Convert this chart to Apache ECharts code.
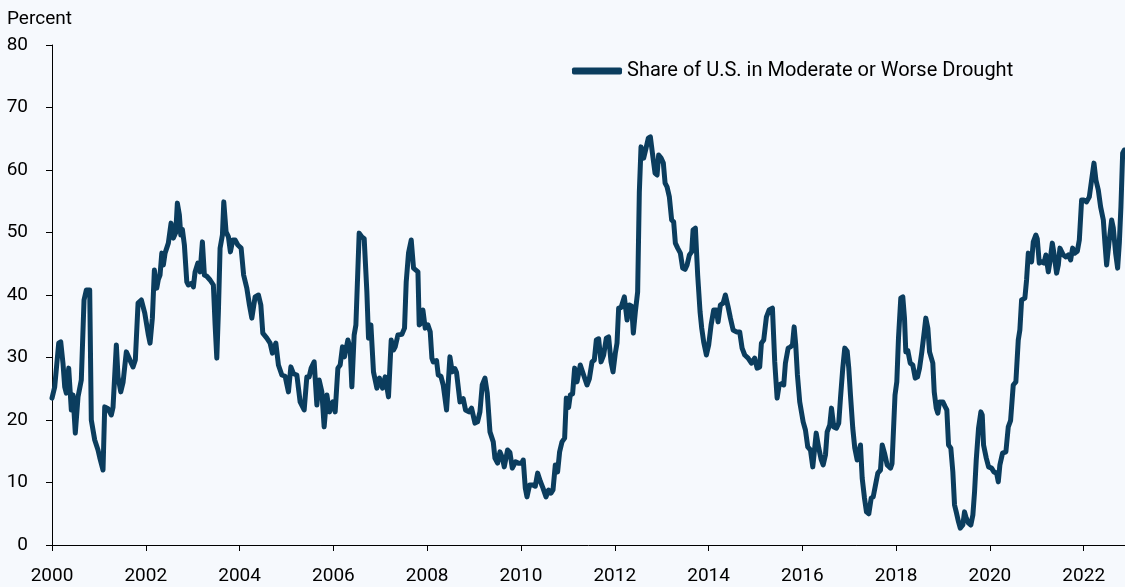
<!DOCTYPE html>
<html>
<head>
<meta charset="utf-8">
<script src="https://cdn.jsdelivr.net/npm/echarts@6/dist/echarts.min.js"></script>
<style>
  html, body { margin: 0; padding: 0; background: #f6f9fd; }
  #main { width: 1125px; height: 587px; }
</style>
</head>
<body>
<div id="main"></div>
<script>
// decimal year of each reading
const years = [
  2000.000, 2000.058, 2000.143, 2000.186, 2000.235, 2000.271, 2000.305, 2000.356, 2000.412, 2000.448,
  2000.497, 2000.555, 2000.625, 2000.683, 2000.732, 2000.804, 2000.838, 2000.911, 2000.981, 2001.018,
  2001.088, 2001.124, 2001.195, 2001.265, 2001.301, 2001.372, 2001.408, 2001.466, 2001.515, 2001.585,
  2001.622, 2001.679, 2001.728, 2001.777, 2001.835, 2001.905, 2001.978, 2002.055, 2002.091, 2002.140,
  2002.183, 2002.234, 2002.268, 2002.304, 2002.341, 2002.375, 2002.411, 2002.481, 2002.539, 2002.588,
  2002.639, 2002.673, 2002.716, 2002.746, 2002.780, 2002.823, 2002.874, 2002.908, 2002.981, 2003.015,
  2003.051, 2003.109, 2003.158, 2003.207, 2003.249, 2003.301, 2003.371, 2003.441, 2003.478, 2003.514,
  2003.548, 2003.584, 2003.634, 2003.663, 2003.712, 2003.762, 2003.804, 2003.855, 2003.904, 2003.962,
  2004.033, 2004.086, 2004.154, 2004.210, 2004.261, 2004.331, 2004.402, 2004.453, 2004.495, 2004.581,
  2004.651, 2004.700, 2004.773, 2004.828, 2004.901, 2004.971, 2005.042, 2005.093, 2005.148, 2005.221,
  2005.291, 2005.377, 2005.434, 2005.483, 2005.526, 2005.590, 2005.648, 2005.697, 2005.754, 2005.803,
  2005.861, 2005.917, 2005.989, 2006.038, 2006.096, 2006.145, 2006.194, 2006.237, 2006.309, 2006.358,
  2006.394, 2006.443, 2006.480, 2006.514, 2006.550, 2006.608, 2006.657, 2006.714, 2006.749, 2006.800,
  2006.855, 2006.928, 2006.983, 2007.047, 2007.105, 2007.175, 2007.233, 2007.282, 2007.318, 2007.376,
  2007.461, 2007.517, 2007.553, 2007.602, 2007.660, 2007.709, 2007.745, 2007.803, 2007.830, 2007.873,
  2007.909, 2007.958, 2008.016, 2008.065, 2008.101, 2008.129, 2008.200, 2008.236, 2008.293, 2008.342,
  2008.413, 2008.485, 2008.534, 2008.592, 2008.626, 2008.699, 2008.769, 2008.818, 2008.891, 2008.946,
  2009.019, 2009.074, 2009.125, 2009.174, 2009.232, 2009.281, 2009.339, 2009.409, 2009.445, 2009.501,
  2009.552, 2009.601, 2009.644, 2009.714, 2009.765, 2009.815, 2009.885, 2009.943, 2010.013, 2010.049,
  2010.092, 2010.128, 2010.184, 2010.256, 2010.305, 2010.355, 2010.412, 2010.470, 2010.534, 2010.589,
  2010.640, 2010.683, 2010.732, 2010.781, 2010.824, 2010.875, 2010.931, 2010.967, 2011.016, 2011.052,
  2011.101, 2011.144, 2011.195, 2011.265, 2011.336, 2011.408, 2011.458, 2011.515, 2011.564, 2011.607,
  2011.656, 2011.707, 2011.763, 2011.820, 2011.869, 2011.920, 2011.963, 2012.012, 2012.048, 2012.083,
  2012.134, 2012.204, 2012.262, 2012.311, 2012.360, 2012.396, 2012.439, 2012.488, 2012.524, 2012.560,
  2012.616, 2012.667, 2012.716, 2012.759, 2012.808, 2012.859, 2012.902, 2012.936, 2012.988, 2013.036,
  2013.073, 2013.115, 2013.164, 2013.213, 2013.256, 2013.292, 2013.342, 2013.399, 2013.448, 2013.499,
  2013.542, 2013.591, 2013.640, 2013.670, 2013.719, 2013.768, 2013.819, 2013.854, 2013.896, 2013.954,
  2014.003, 2014.054, 2014.110, 2014.167, 2014.203, 2014.252, 2014.310, 2014.359, 2014.417, 2014.466,
  2014.524, 2014.594, 2014.664, 2014.715, 2014.771, 2014.843, 2014.914, 2014.984, 2015.035, 2015.091,
  2015.127, 2015.176, 2015.234, 2015.292, 2015.362, 2015.411, 2015.462, 2015.505, 2015.554, 2015.603,
  2015.639, 2015.697, 2015.746, 2015.789, 2015.825, 2015.859, 2015.895, 2015.944, 2016.017, 2016.066,
  2016.115, 2016.173, 2016.222, 2016.259, 2016.295, 2016.350, 2016.401, 2016.444, 2016.493, 2016.529,
  2016.585, 2016.621, 2016.670, 2016.727, 2016.776, 2016.813, 2016.862, 2016.904, 2016.956, 2016.990,
  2017.026, 2017.075, 2017.118, 2017.169, 2017.203, 2017.239, 2017.276, 2017.325, 2017.367, 2017.417,
  2017.468, 2017.511, 2017.560, 2017.609, 2017.666, 2017.703, 2017.752, 2017.809, 2017.880, 2017.912,
  2017.976, 2018.014, 2018.050, 2018.099, 2018.142, 2018.178, 2018.206, 2018.249, 2018.300, 2018.355,
  2018.407, 2018.456, 2018.499, 2018.548, 2018.599, 2018.633, 2018.676, 2018.712, 2018.748, 2018.782,
  2018.812, 2018.855, 2018.889, 2018.925, 2018.996, 2019.047, 2019.081, 2019.117, 2019.166, 2019.209,
  2019.245, 2019.281, 2019.330, 2019.367, 2019.422, 2019.458, 2019.495, 2019.544, 2019.593, 2019.636,
  2019.672, 2019.708, 2019.757, 2019.807, 2019.836, 2019.864, 2019.922, 2019.971, 2020.035, 2020.084,
  2020.142, 2020.178, 2020.212, 2020.269, 2020.340, 2020.391, 2020.440, 2020.497, 2020.553, 2020.604,
  2020.638, 2020.675, 2020.745, 2020.781, 2020.818, 2020.852, 2020.888, 2020.924, 2020.980, 2021.009,
  2021.052, 2021.101, 2021.151, 2021.193, 2021.245, 2021.279, 2021.330, 2021.364, 2021.421, 2021.458,
  2021.492, 2021.565, 2021.620, 2021.671, 2021.720, 2021.763, 2021.812, 2021.863, 2021.906, 2021.955,
  2022.004, 2022.061, 2022.119, 2022.168, 2022.218, 2022.260, 2022.311, 2022.360, 2022.418, 2022.452,
  2022.488, 2022.537, 2022.595, 2022.631, 2022.680, 2022.723, 2022.759, 2022.793, 2022.830, 2022.866
];

// share of U.S. in moderate or worse drought, percent
const share = [
  23.5, 25.3, 32.3, 32.5, 29.0, 25.3, 24.3, 28.3, 21.6, 24.0,
  17.9, 23.7, 26.4, 39.2, 40.8, 40.8, 20.0, 16.8, 15.2, 14.0,
  12.0, 22.1, 21.8, 20.8, 22.0, 32.0, 26.9, 24.5, 26.0, 30.9,
  31.0, 29.3, 28.5, 29.6, 38.7, 39.2, 37.1, 33.6, 32.3, 36.3,
  44.0, 41.1, 42.5, 43.2, 46.7, 44.8, 46.7, 48.3, 51.5, 49.1,
  50.0, 54.7, 52.8, 49.6, 50.5, 48.0, 42.1, 41.6, 41.9, 41.3,
  43.7, 45.1, 43.7, 48.5, 43.2, 43.0, 42.4, 41.6, 35.2, 29.9,
  37.3, 47.5, 49.6, 54.9, 50.1, 49.3, 46.9, 48.8, 48.8, 48.0,
  47.5, 43.2, 41.1, 38.4, 36.3, 39.7, 40.0, 38.4, 33.9, 33.1,
  32.3, 30.7, 32.3, 28.8, 27.2, 27.0, 24.5, 28.5, 27.4, 27.2,
  22.9, 21.6, 26.9, 26.9, 28.3, 29.3, 22.4, 26.4, 24.5, 18.9,
  24.0, 21.3, 22.9, 21.3, 28.3, 28.8, 31.7, 30.1, 32.8, 31.5,
  25.3, 33.6, 35.2, 35.5, 49.9, 49.3, 49.0, 40.5, 33.1, 35.2,
  27.7, 25.1, 26.7, 25.1, 26.9, 23.7, 32.8, 31.2, 31.7, 33.6,
  33.7, 34.7, 42.1, 46.7, 48.8, 44.3, 44.0, 43.7, 35.2, 35.5,
  37.6, 34.7, 35.2, 34.1, 29.9, 29.3, 29.5, 27.2, 27.0, 25.6,
  21.6, 30.1, 27.7, 28.2, 27.6, 22.9, 23.4, 21.6, 21.3, 21.9,
  19.5, 19.7, 21.3, 25.6, 26.7, 24.3, 18.1, 16.5, 13.9, 13.1,
  14.9, 14.0, 12.5, 15.2, 14.8, 12.3, 13.3, 13.1, 13.1, 13.6,
  9.1, 7.7, 9.6, 9.6, 9.4, 11.5, 10.2, 9.1, 7.7, 8.8,
  8.3, 8.8, 12.8, 11.7, 14.9, 16.5, 17.1, 23.5, 22.0, 24.0,
  24.2, 28.3, 26.1, 28.8, 27.2, 25.6, 26.6, 29.3, 29.6, 32.8,
  33.0, 29.3, 30.4, 33.1, 33.3, 29.3, 27.7, 30.7, 32.3, 37.9,
  38.0, 39.7, 36.0, 38.4, 38.2, 33.9, 37.3, 40.5, 56.5, 63.7,
  61.9, 63.5, 65.1, 65.3, 62.4, 59.5, 59.2, 62.4, 61.9, 61.1,
  57.9, 57.3, 55.7, 52.0, 51.7, 48.3, 47.5, 46.7, 44.3, 44.1,
  44.8, 46.4, 46.9, 50.4, 50.7, 43.2, 37.3, 34.7, 32.5, 30.4,
  32.0, 35.2, 37.6, 37.6, 35.7, 38.4, 38.7, 40.0, 38.1, 36.3,
  34.4, 34.1, 34.1, 31.5, 30.4, 29.9, 29.1, 29.9, 28.3, 28.5,
  32.3, 32.8, 36.5, 37.6, 37.9, 29.3, 23.5, 25.6, 25.8, 25.6,
  29.1, 31.5, 31.7, 32.0, 34.9, 32.0, 27.2, 22.9, 19.7, 18.4,
  15.7, 15.2, 12.5, 15.2, 17.9, 15.5, 13.7, 12.8, 14.4, 18.1,
  19.2, 21.9, 18.9, 18.7, 19.5, 23.5, 28.3, 31.5, 31.0, 28.3,
  24.0, 18.7, 15.5, 13.6, 14.9, 16.0, 10.7, 7.5, 5.3, 5.0,
  7.5, 7.7, 9.6, 11.5, 12.0, 16.0, 14.7, 12.8, 12.3, 13.0,
  24.0, 26.1, 33.1, 39.5, 39.7, 36.3, 30.9, 31.1, 29.1, 28.8,
  26.7, 26.9, 28.3, 30.9, 34.1, 36.3, 34.7, 30.9, 30.7, 29.1,
  24.5, 21.9, 21.1, 22.9, 22.9, 22.1, 21.6, 16.0, 15.5, 11.7,
  6.4, 5.3, 3.7, 2.7, 3.2, 5.3, 4.3, 3.5, 3.2, 4.8,
  8.5, 13.6, 18.7, 21.3, 20.8, 16.0, 13.9, 12.5, 12.3, 11.7,
  11.5, 10.1, 12.8, 14.7, 14.9, 18.9, 19.9, 25.6, 26.1, 32.8,
  34.4, 39.2, 39.5, 42.4, 46.7, 47.0, 45.3, 48.5, 49.6, 49.0,
  45.1, 45.3, 45.1, 46.4, 43.7, 45.3, 48.3, 46.7, 43.5, 44.8,
  47.5, 46.4, 46.1, 46.4, 45.6, 47.5, 46.7, 47.0, 48.8, 55.2,
  55.2, 54.9, 55.7, 58.4, 61.1, 58.4, 56.8, 54.1, 52.0, 48.3,
  44.8, 48.3, 52.0, 50.7, 46.7, 44.3, 48.3, 54.1, 62.7, 63.2
];

const yearTicks = [2000, 2002, 2004, 2006, 2008, 2010, 2012, 2014, 2016, 2018, 2020, 2022];
const seriesName = 'Share of U.S. in Moderate or Worse Drought';

const chart = echarts.init(document.getElementById('main'));
const font = 'Roboto, "Noto Sans", sans-serif';

chart.setOption({
  backgroundColor: '#f6f9fd',
  animation: false,
  textStyle: { fontFamily: font },
  title: {
    text: 'Percent',
    left: 2,
    top: 5,
    textStyle: { fontFamily: font, fontSize: 19, fontWeight: 'normal', color: '#000' }
  },
  legend: {
    data: [seriesName],
    left: 567,
    top: 56,
    icon: 'roundRect',
    itemWidth: 50,
    itemHeight: 7,
    textStyle: { fontFamily: font, fontSize: 20, color: '#000' }
  },
  grid: { left: 52, right: 0, top: 45, bottom: 42, containLabel: false },
  xAxis: {
    type: 'value',
    min: 2000,
    max: 2022.88,
    interval: 2,
    splitLine: { show: false },
    axisLine: { lineStyle: { color: '#000', width: 1 } },
    axisTick: { show: true, length: 6, lineStyle: { color: '#000' }, customValues: yearTicks },
    axisLabel: {
      customValues: yearTicks,
      formatter: v => String(v),
      color: '#000',
      fontSize: 19,
      margin: 22,
      fontFamily: font
    }
  },
  yAxis: {
    type: 'value',
    min: 0,
    max: 80,
    interval: 10,
    splitLine: { show: false },
    axisLine: { show: true, lineStyle: { color: '#000', width: 1 } },
    axisTick: { show: true, length: 6, lineStyle: { color: '#000' } },
    axisLabel: { color: '#000', fontSize: 19, margin: 24, fontFamily: font }
  },
  series: [{
    name: seriesName,
    type: 'line',
    data: years.map((y, i) => [y, share[i]]),
    showSymbol: false,
    symbol: 'none',
    smooth: false,
    color: '#0b3d5e',
    lineStyle: { color: '#0b3d5e', width: 5, join: 'round', cap: 'round' }
  }]
});
</script>
</body>
</html>
